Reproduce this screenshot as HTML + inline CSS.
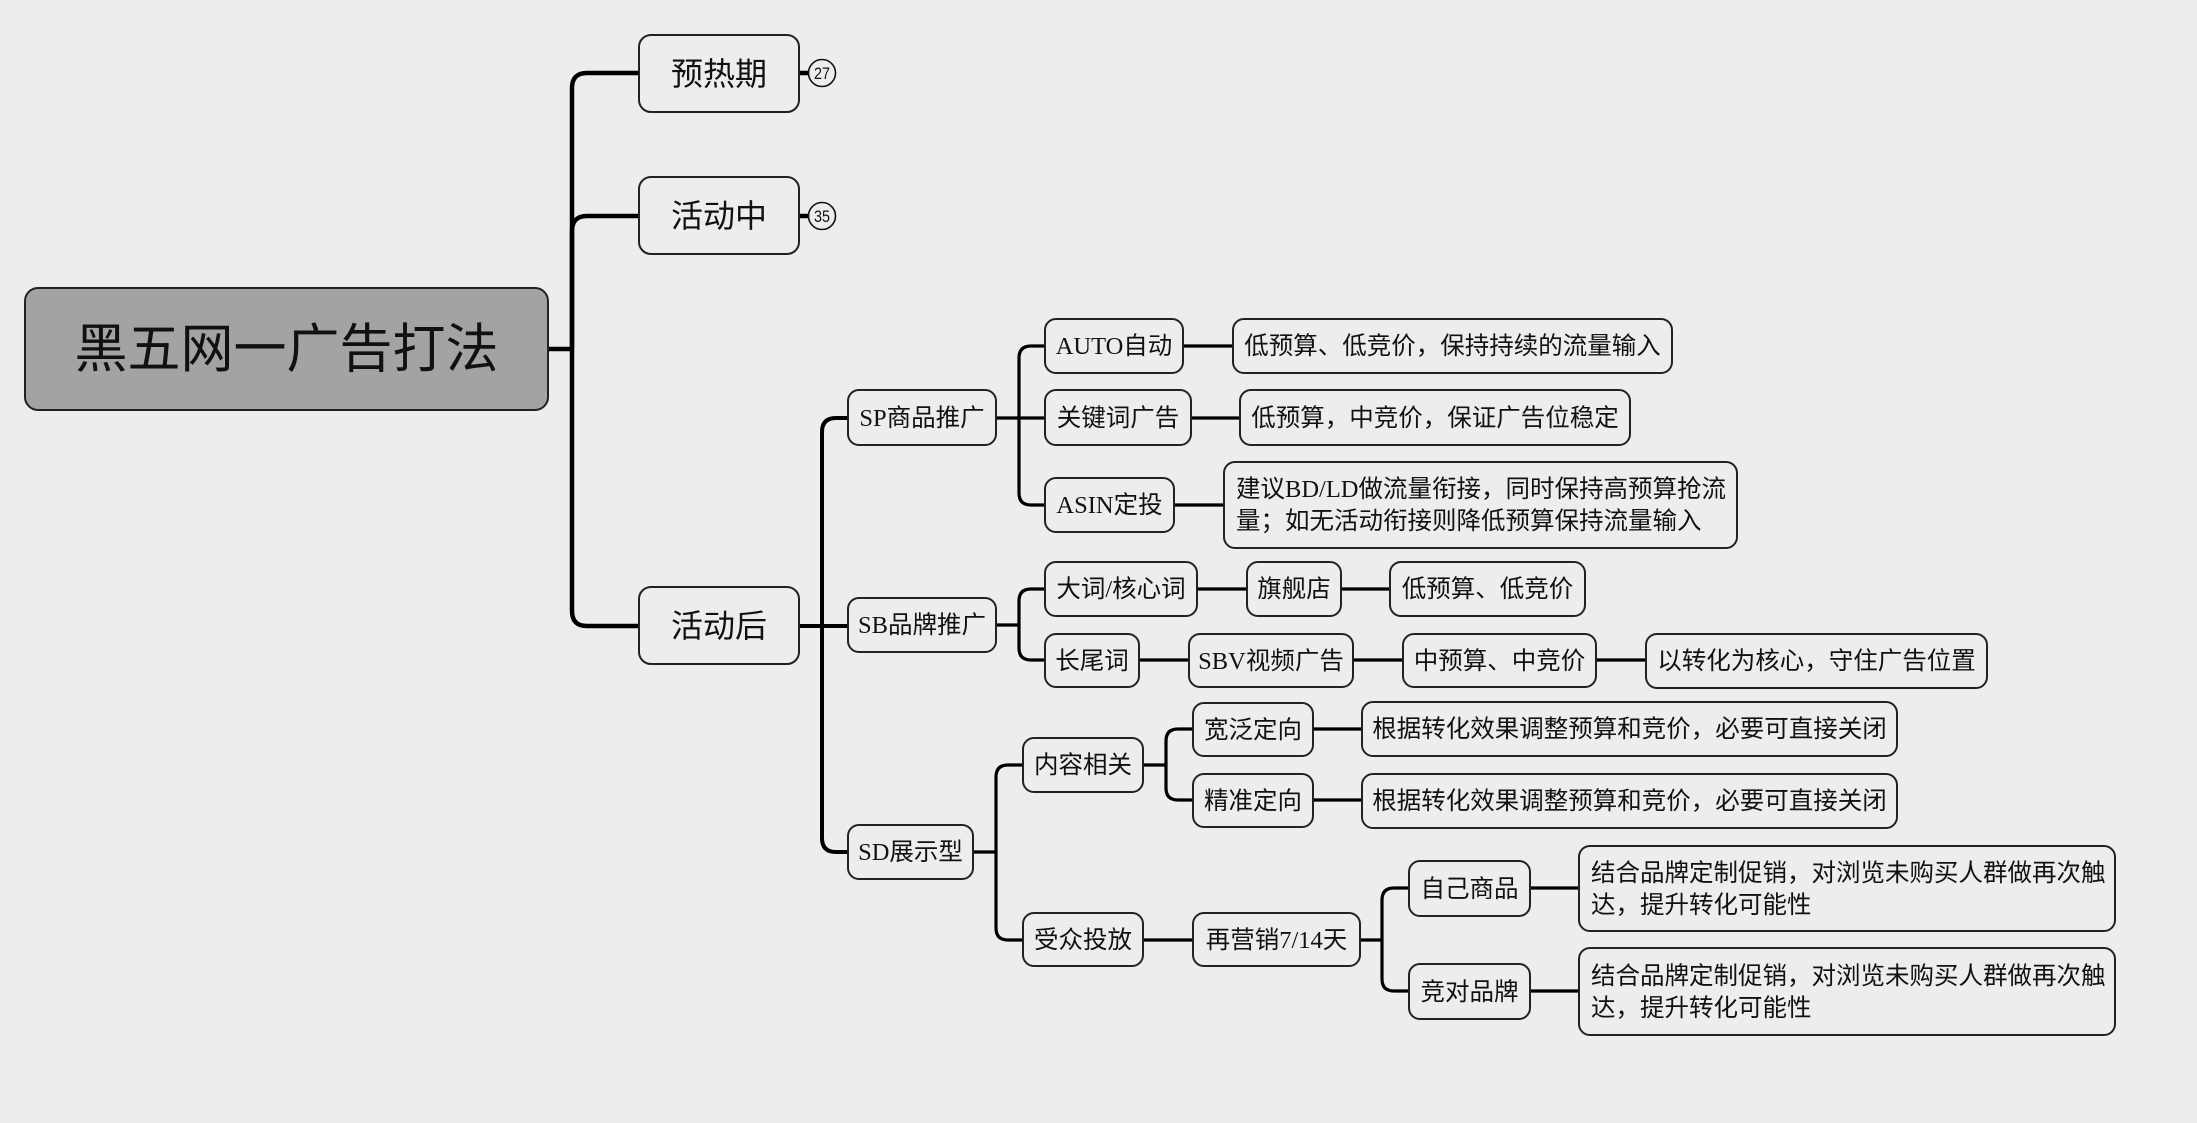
<!DOCTYPE html>
<html>
<head>
<meta charset="utf-8">
<style>
  html, body { margin:0; padding:0; }
  body { width:2197px; height:1123px; background:#ededed; position:relative; overflow:hidden;
         font-family:"Liberation Serif","Noto Sans CJK SC",sans-serif; color:#111; }
  svg { position:absolute; left:0; top:0; }
  .n { position:absolute; box-sizing:border-box; border:2px solid #222; border-radius:12px;
       background:#ededed; display:flex; align-items:center; justify-content:center;
       font-size:24.5px; line-height:1.2; white-space:nowrap; padding-top:2px; }
  .l1 { font-family:"Liberation Sans","Noto Sans CJK SC",sans-serif; font-size:32px; border-radius:13px; }
  .root { font-family:"Liberation Sans","Noto Sans CJK SC",sans-serif; font-size:53px; background:#a3a3a3; border-radius:14px; }
  .ml { justify-content:flex-start; padding-left:11px; line-height:32px; }
</style>
</head>
<body>
<svg width="2197" height="1123" viewBox="0 0 2197 1123">
  <g fill="none" stroke="#000" stroke-width="4.5">
    <path d="M549,349 H572"/>
    <path d="M572,349 V88 Q572,73 587,73 H638"/>
    <path d="M572,349 V231 Q572,216 587,216 H638"/>
    <path d="M572,349 V611 Q572,626 587,626 H638"/>
    <path d="M800,73 H809"/>
    <path d="M800,216 H809"/>
  </g>
  <g fill="none" stroke="#000" stroke-width="4">
    <path d="M800,626 H847"/>
    <path d="M822,626 V432 Q822,418 836,418 H847"/>
    <path d="M822,626 V838 Q822,852 836,852 H847"/>
  </g>
  <g fill="none" stroke="#000" stroke-width="3.2">
    <path d="M997,418 H1044"/>
    <path d="M1019,418 V358 Q1019,346 1031,346 H1044"/>
    <path d="M1019,418 V493 Q1019,505 1031,505 H1044"/>
    <path d="M997,625 H1019"/>
    <path d="M1019,625 V601 Q1019,589 1031,589 H1044"/>
    <path d="M1019,625 V648 Q1019,660 1031,660 H1044"/>
    <path d="M974,852 H996"/>
    <path d="M996,852 V777 Q996,765 1008,765 H1022"/>
    <path d="M996,852 V928 Q996,940 1008,940 H1022"/>
    <path d="M1184,346 H1232"/>
    <path d="M1192,418 H1239"/>
    <path d="M1175,505 H1223"/>
    <path d="M1198,589 H1246"/>
    <path d="M1342,589 H1389"/>
    <path d="M1140,660 H1188"/>
    <path d="M1354,660 H1402"/>
    <path d="M1597,660 H1645"/>
    <path d="M1144,765 H1166"/>
    <path d="M1166,765 V741 Q1166,729 1178,729 H1192"/>
    <path d="M1166,765 V788 Q1166,800 1178,800 H1192"/>
    <path d="M1314,729 H1361"/>
    <path d="M1314,800 H1361"/>
    <path d="M1144,940 H1192"/>
    <path d="M1361,940 H1382"/>
    <path d="M1382,940 V900 Q1382,888 1394,888 H1408"/>
    <path d="M1382,940 V979 Q1382,991 1394,991 H1408"/>
    <path d="M1531,888 H1578"/>
    <path d="M1531,991 H1578"/>
  </g>
  <g fill="#ededed" stroke="#111" stroke-width="1.6">
    <circle cx="822" cy="73" r="13.5"/>
    <circle cx="822" cy="216" r="13.5"/>
  </g>
  <g font-family="Liberation Sans, sans-serif" font-size="17" fill="#111" text-anchor="middle">
    <text x="822" y="79" textLength="16" lengthAdjust="spacingAndGlyphs">27</text>
    <text x="822" y="222" textLength="16" lengthAdjust="spacingAndGlyphs">35</text>
  </g>
</svg>

<div class="n root" style="left:24px;top:287px;width:525px;height:124px;">黑五网一广告打法</div>

<div class="n l1" style="left:638px;top:34px;width:162px;height:79px;">预热期</div>
<div class="n l1" style="left:638px;top:176px;width:162px;height:79px;">活动中</div>
<div class="n l1" style="left:638px;top:586px;width:162px;height:79px;">活动后</div>

<div class="n" style="left:847px;top:389px;width:150px;height:57px;">SP商品推广</div>
<div class="n" style="left:847px;top:597px;width:150px;height:56px;">SB品牌推广</div>
<div class="n" style="left:847px;top:824px;width:127px;height:56px;">SD展示型</div>

<div class="n" style="left:1044px;top:318px;width:140px;height:56px;">AUTO自动</div>
<div class="n" style="left:1044px;top:389px;width:148px;height:57px;">关键词广告</div>
<div class="n" style="left:1044px;top:477px;width:131px;height:56px;">ASIN定投</div>

<div class="n" style="left:1232px;top:318px;width:441px;height:56px;">低预算、低竞价，保持持续的流量输入</div>
<div class="n" style="left:1239px;top:389px;width:392px;height:57px;">低预算，中竞价，保证广告位稳定</div>
<div class="n ml" style="left:1223px;top:461px;width:515px;height:88px;">建议BD/LD做流量衔接，同时保持高预算抢流<br>量；如无活动衔接则降低预算保持流量输入</div>

<div class="n" style="left:1044px;top:561px;width:154px;height:56px;">大词/核心词</div>
<div class="n" style="left:1246px;top:561px;width:96px;height:56px;">旗舰店</div>
<div class="n" style="left:1389px;top:561px;width:197px;height:56px;">低预算、低竞价</div>

<div class="n" style="left:1044px;top:633px;width:96px;height:55px;">长尾词</div>
<div class="n" style="left:1188px;top:633px;width:166px;height:55px;">SBV视频广告</div>
<div class="n" style="left:1402px;top:633px;width:195px;height:55px;">中预算、中竞价</div>
<div class="n" style="left:1645px;top:633px;width:343px;height:56px;">以转化为核心，守住广告位置</div>

<div class="n" style="left:1022px;top:737px;width:122px;height:56px;">内容相关</div>
<div class="n" style="left:1022px;top:912px;width:122px;height:55px;">受众投放</div>

<div class="n" style="left:1192px;top:702px;width:122px;height:55px;">宽泛定向</div>
<div class="n" style="left:1192px;top:773px;width:122px;height:55px;">精准定向</div>
<div class="n" style="left:1361px;top:701px;width:537px;height:56px;">根据转化效果调整预算和竞价，必要可直接关闭</div>
<div class="n" style="left:1361px;top:773px;width:537px;height:56px;">根据转化效果调整预算和竞价，必要可直接关闭</div>

<div class="n" style="left:1192px;top:912px;width:169px;height:55px;">再营销7/14天</div>
<div class="n" style="left:1408px;top:860px;width:123px;height:57px;">自己商品</div>
<div class="n" style="left:1408px;top:963px;width:123px;height:57px;">竞对品牌</div>
<div class="n ml" style="left:1578px;top:845px;width:538px;height:87px;">结合品牌定制促销，对浏览未购买人群做再次触<br>达，提升转化可能性</div>
<div class="n ml" style="left:1578px;top:947px;width:538px;height:89px;">结合品牌定制促销，对浏览未购买人群做再次触<br>达，提升转化可能性</div>
</body>
</html>
